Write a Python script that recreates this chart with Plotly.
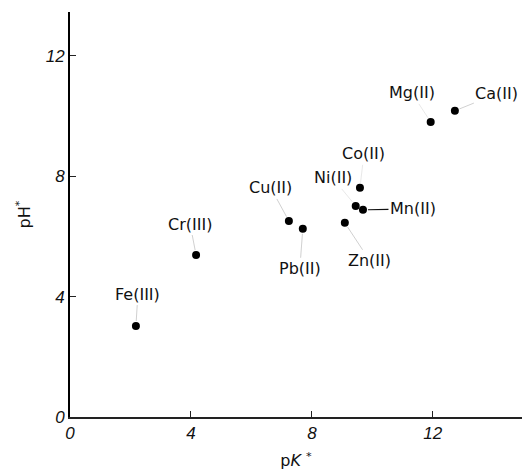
import plotly.graph_objects as go

# Data
ions = ["Fe(III)", "Cr(III)", "Cu(II)", "Pb(II)", "Zn(II)",
        "Ni(II)", "Mn(II)", "Co(II)", "Mg(II)", "Ca(II)"]
pK = [2.18, 4.17, 7.24, 7.70, 9.09, 9.45, 9.69, 9.59, 11.93, 12.73]
pH = [3.02, 5.38, 6.51, 6.25, 6.45, 7.01, 6.88, 7.61, 9.80, 10.17]
x_ticks = [0, 4, 8, 12]
y_ticks = [0, 4, 8, 12]

# label offsets in pixels (layout only)
label_offsets = {
    "Fe(III)": (2, -32), "Cr(III)": (-6, -31), "Cu(II)": (-18, -33),
    "Pb(II)": (-3, 40), "Zn(II)": (25, 38), "Ni(II)": (-23, -28),
    "Mn(II)": (50, -1), "Co(II)": (4, -34), "Mg(II)": (-19, -29),
    "Ca(II)": (42, -17),
}
leader_colors = {"Mn(II)": "#111111", "Ni(II)": "#e2e2e2",
                 "Co(II)": "#e2e2e2", "Mg(II)": "#e2e2e2"}

fig = go.Figure()
fig.add_trace(go.Scatter(
    x=pK, y=pH, mode="markers",
    marker=dict(color="black", size=8),
    showlegend=False, hoverinfo="skip",
))

for name, xv, yv in zip(ions, pK, pH):
    ax, ay = label_offsets[name]
    fig.add_annotation(
        x=xv, y=yv, text=name, showarrow=True, ax=ax, ay=ay,
        arrowhead=0, arrowwidth=0.8 if name != "Mn(II)" else 1.2,
        arrowcolor=leader_colors.get(name, "#c4c4c4"), standoff=5,
        font=dict(family="DejaVu Sans", size=16, color="#111111"),
    )

tick_font = dict(family="Liberation Sans", size=17, color="#111111", style="italic")

fig.update_layout(
    width=522, height=475,
    margin=dict(l=70, r=0, t=12, b=58),
    paper_bgcolor="white", plot_bgcolor="white",
    xaxis=dict(
        range=[0, 14.95], tickvals=x_ticks, ticktext=[str(v) for v in x_ticks],
        showgrid=False, zeroline=False, showline=True, linecolor="#222222",
        linewidth=1.5, ticks="inside", ticklen=6, tickcolor="#222222",
        tickfont=tick_font,
        title=dict(text="p<i>K</i> <sup>*</sup>", standoff=13,
                   font=dict(family="DejaVu Sans", size=16, color="#111111")),
    ),
    yaxis=dict(
        range=[0, 13.45], tickvals=y_ticks, ticktext=[str(v) for v in y_ticks],
        showgrid=False, zeroline=False, showline=True, linecolor="black",
        linewidth=2, ticks="inside", ticklen=6, tickcolor="#222222",
        tickfont=tick_font,
        title=dict(text="pH<sup>*</sup>", standoff=11,
                   font=dict(family="DejaVu Sans", size=16, color="#111111")),
    ),
)

fig.write_html("out.html")
